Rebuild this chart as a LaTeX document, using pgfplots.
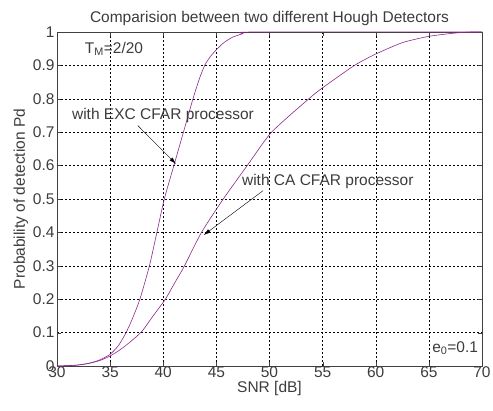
\documentclass[border=0pt]{standalone}
\usepackage{fontspec}
\setmainfont{Liberation Sans}
\usepackage{pgfplots}
\pgfplotsset{compat=1.18}
\usetikzlibrary{calc,arrows.meta}
\definecolor{curve}{RGB}{140,40,140}
\definecolor{txt}{RGB}{60,60,60}
\begin{document}
\begin{tikzpicture}
\begin{axis}[
  scale only axis, width=425pt, height=334pt,
  xmin=30, xmax=70, ymin=0, ymax=1,
  xtick={30,35,...,70}, ytick={0,0.1,...,1},
  yticklabels={0,0.1,0.2,0.3,0.4,0.5,0.6,0.7,0.8,0.9,1},
  grid=major,
  major grid style={black, line width=0.5pt, dash pattern=on 2pt off 2pt},
  axis line style={black!75, line width=0.6pt},
  tick align=inside, tick pos=both, major tick length=4pt,
  tick style={black!75},
  font=\fontsize{15.5}{18}\selectfont,
  tick label style={text=txt, font=\fontsize{15.5}{18}\selectfont},
  yticklabel style={xshift=1pt},
  xticklabel style={yshift=3pt},
  /pgf/number format/assume math mode=true,
  xlabel={SNR [dB]}, ylabel={Probability of detection Pd},
  label style={text=txt},
  xlabel style={yshift=3pt}, ylabel style={yshift=-2pt},
  title={Comparision between two different Hough Detectors},
  title style={text=txt, yshift=-3pt},
]
% EXC CFAR
\addplot[curve, line width=0.6pt, smooth, tension=0.4] coordinates {
(30,0) (31,0.001) (32,0.003) (33,0.008) (34,0.018) (35,0.035) (35.8,0.062)
(36.5,0.1) (37.1,0.142) (37.8,0.2) (38.7,0.3) (39.4,0.4) (40.1,0.5) (41.0,0.6)
(41.9,0.7) (42.8,0.8) (43.4,0.86) (43.9,0.9) (44.4,0.925) (45,0.947) (45.7,0.968)
(46.5,0.984) (47.5,0.995) (48.5,1.0) (70,1.0)};
% CA CFAR
\addplot[curve, line width=0.6pt, smooth, tension=0.4] coordinates {
(30,0) (31,0.001) (32,0.003) (33,0.008) (34,0.016) (35,0.03) (36,0.05)
(37,0.075) (38,0.104) (39,0.148) (40.2,0.2) (41.1,0.25) (42.0,0.3) (43.6,0.4)
(45.65,0.5) (47.9,0.6) (50.2,0.7) (53.7,0.8) (55,0.833) (58.0,0.9) (60,0.934)
(62.5,0.968) (65,0.987) (67.5,0.997) (69,1.0) (70,1.0)};
\node[anchor=west, text=txt, inner sep=0pt] at (axis cs:32.6,0.95) {T\textsubscript{M}=2/20};
\node[anchor=west, text=txt, inner sep=0pt] at (axis cs:31.4,0.75) {with EXC CFAR processor};
\draw[black, -{Latex[length=7pt,width=4pt]}] (axis cs:37.6,0.72) -- (axis cs:41.2,0.605);
\node[anchor=west, text=txt, inner sep=0pt] at (axis cs:47.4,0.551) {with CA CFAR processor};
\draw[black, -{Latex[length=7pt,width=4pt]}] (axis cs:49.4,0.525) -- (axis cs:43.8,0.392);
\node[anchor=west, text=txt, inner sep=0pt] at (axis cs:65.3,0.054) {e\textsubscript{0}=0.1};
\end{axis}
\pgfresetboundingbox
\path[use as bounding box] ($(current axis.south west)+(-57pt,-44pt)$) rectangle ($(current axis.north east)+(11pt,32pt)$);
\end{tikzpicture}
\end{document}
